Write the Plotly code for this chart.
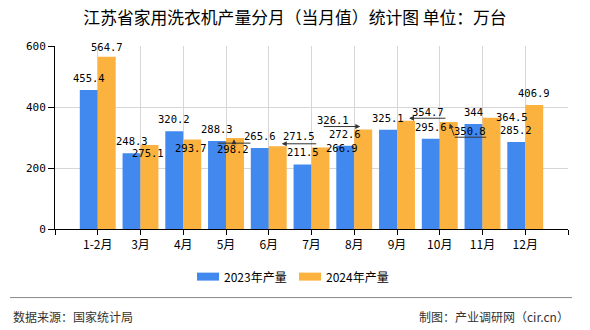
import plotly.graph_objects as go

# ---- data ----
months = ["1-2月", "3月", "4月", "5月", "6月", "7月", "8月", "9月", "10月", "11月", "12月"]
series_names = ["2023年产量", "2024年产量"]
prod_2023 = [455.4, 248.3, 320.2, 288.3, 265.6, 211.5, 272.6, 325.1, 295.6, 344, 285.2]
prod_2024 = [564.7, 275.1, 293.7, 298.2, 271.5, 266.9, 326.1, 354.7, 350.8, 364.5, 406.9]
y_ticks = [0, 200, 400, 600]

title_text = "江苏省家用洗衣机产量分月（当月值）统计图 单位：万台"
source_text = "数据来源：国家统计局"
credit_text = "制图：产业调研网（cir.cn）"

# ---- styling ----
W, H = 590, 330
L, R, T, B = 55, 22, 46, 100.7
PW, PH = W - L - R, H - T - B
BLUE = "#4289ef"
ORANGE = "#fcb23f"
CJK = "Noto Sans CJK SC"
MONO = "DejaVu Sans Mono"
GAP = 0.16
half = (1 - GAP) / 4  # offset of each bar centre from category centre

def pxx(px):
    return (px - L) / PW

def pxy(py):
    return (H - B - py) / PH

xs = list(range(len(months)))

fig = go.Figure()
fig.add_trace(go.Bar(x=xs, y=prod_2023, name=series_names[0], marker_color=BLUE, marker_line_width=0))
fig.add_trace(go.Bar(x=xs, y=prod_2024, name=series_names[1], marker_color=ORANGE, marker_line_width=0))

annotations = []
# data labels: (xshift, yshift) in pixels relative to bar top
std = (0, 12)
off_2023 = [std] * len(months)
off_2024 = [(0, 10), (-1, -8), (-1, -8.7), (-2, -11), (21, 9.7), (22, 0),
            (-30, 10), (22, 9), (21, -8.6), (21, 1.3), (0, 12)]
for vals, offs, sgn in ((prod_2023, off_2023, -1), (prod_2024, off_2024, 1)):
    for i, v in enumerate(vals):
        annotations.append(dict(
            x=i + sgn * half, y=v, xref="x", yref="y", text=f"{v:g}",
            showarrow=False, xanchor="center", yanchor="middle",
            xshift=offs[i][0], yshift=offs[i][1],
            font=dict(family=MONO, size=10.5, color="#000")))

# leader lines for displaced labels of the 2024 series: (month idx, xshift, yshift, ax, ay, head)
leaders = [
    (3, -17, -5.1, 34, 0, 0), (3, -1, -1.3, 0, 4, 2),
    (4, 4, 2.4, 36, 0, 2),
    (6, -3, 3, -38, 0, 2),
    (7, 3, 2.6, 38, 0, 2),
    (8, 6, -15.2, 33, 0, 0), (8, 1, -1.4, 5, 13.8, 2),
]
for i, xsh, ysh, ax, ay, head in leaders:
    annotations.append(dict(
        x=i + half, y=prod_2024[i], xref="x", yref="y", text="",
        showarrow=True, ax=ax, ay=ay, axref="pixel", ayref="pixel",
        xshift=xsh, yshift=ysh, arrowhead=head, arrowsize=1, arrowwidth=1,
        arrowcolor="#333", standoff=0, startstandoff=0))

# manual legend
shapes = []
legend_items = [(197, BLUE, series_names[0]), (299, ORANGE, series_names[1])]
for x0, col, name in legend_items:
    shapes.append(dict(type="rect", xref="paper", yref="paper",
                       x0=pxx(x0), x1=pxx(x0 + 22), y0=pxy(281), y1=pxy(273),
                       fillcolor=col, line_width=0))
    annotations.append(dict(xref="paper", yref="paper", x=pxx(x0 + 25), y=pxy(276.5),
                            text=name, showarrow=False, xanchor="left", yanchor="middle",
                            font=dict(family=CJK, size=12, color="#000")))

# footer
shapes.append(dict(type="line", xref="paper", yref="paper", x0=pxx(10), x1=pxx(572),
                   y0=pxy(298), y1=pxy(298), line=dict(color="#888", width=1)))
annotations.append(dict(xref="paper", yref="paper", x=pxx(11), y=pxy(316.5), text=source_text,
                        showarrow=False, xanchor="left", yanchor="middle",
                        font=dict(family=CJK, size=12, color="#333")))
annotations.append(dict(xref="paper", yref="paper", x=pxx(571), y=pxy(316.5), text=credit_text,
                        showarrow=False, xanchor="right", yanchor="middle",
                        font=dict(family=CJK, size=12, color="#333")))

fig.update_layout(
    width=W, height=H, margin=dict(l=L, r=R, t=T, b=B, pad=0),
    paper_bgcolor="white", plot_bgcolor="white",
    barmode="group", bargap=GAP, bargroupgap=0, showlegend=False,
    title=dict(text=title_text, x=0.5, xref="container", xanchor="center",
               y=1 - 18 / H, yref="container", yanchor="middle",
               font=dict(family=CJK, size=16.8, color="#000")),
    annotations=annotations, shapes=shapes,
)
fig.update_xaxes(range=[-1, len(months)], tickmode="array",
                 tickvals=[-1] + xs + [len(months)], ticktext=[""] + months + [""],
                 showgrid=True, gridcolor="#d6d6d6", gridwidth=1,
                 showline=True, linecolor="#000", linewidth=1,
                 ticks="outside", ticklen=5, tickcolor="#000",
                 tickfont=dict(family=CJK, size=12, color="#000"), zeroline=False)
fig.update_yaxes(range=[0, 600], tickvals=y_ticks,
                 showgrid=True, gridcolor="#d6d6d6", gridwidth=1,
                 showline=True, linecolor="#000", linewidth=1,
                 ticks="outside", ticklen=6, tickcolor="#000",
                 tickfont=dict(family=MONO, size=11, color="#000"), zeroline=False)

fig.write_html("out.html")
